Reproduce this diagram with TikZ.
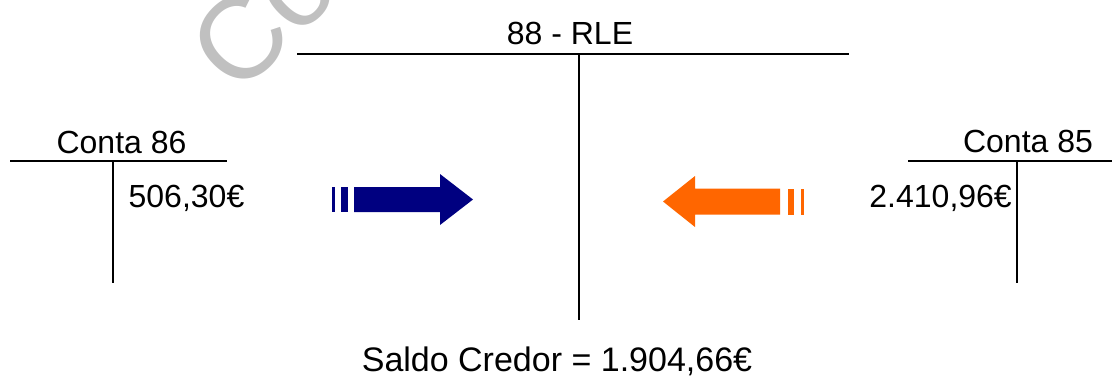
\documentclass[tikz,border=0pt]{standalone}
\usepackage{fontspec}
\setmainfont{Liberation Sans}
\definecolor{wm}{RGB}{192,192,192}
\definecolor{arrowblue}{RGB}{0,0,128}
\definecolor{arroworange}{RGB}{255,102,0}
\begin{document}
\begin{tikzpicture}[x=1pt,y=-1pt,
  lbl/.style={font=\fontsize{32}{38}\selectfont, inner sep=0pt, anchor=base},
  tline/.style={line width=1.6pt},
]
\useasboundingbox (0,0) rectangle (1112,376);
\clip (0,0) rectangle (1112,376);

% watermark
\node[rotate=45, text=wm, font=\fontsize{116}{116}\selectfont, anchor=base west, inner sep=0pt] (mark) at (238,98) {Co};

% central T account 88 - RLE
\coordinate (rleL) at (297,54);
\coordinate (rleR) at (849,54);
\coordinate (rleT) at (579,54);
\coordinate (rleB) at (579,320);
\draw[tline] (rleL) -- (rleR);
\draw[tline] (rleT) -- (rleB);
\node[lbl] (rle) at (570,44) {88 - RLE};
\node[lbl, font=\fontsize{34}{40}\selectfont] (saldo) at (557,371) {Saldo Credor = 1.904,66€};

% left T account 86
\coordinate (c86L) at (10,161);
\coordinate (c86R) at (227,161);
\coordinate (c86T) at (113,161);
\coordinate (c86B) at (113,283);
\draw[tline] (c86L) -- (c86R);
\draw[tline] (c86T) -- (c86B);
\node[lbl] (c86) at (121.5,153) {Conta 86};
\node[lbl] (v86) at (186.5,207) {506,30€};

% right T account 85
\coordinate (c85L) at (908,161);
\coordinate (c85R) at (1112,161);
\coordinate (c85T) at (1017,161);
\coordinate (c85B) at (1017,283);
\draw[tline] (c85L) -- (c85R);
\draw[tline] (c85T) -- (c85B);
\node[lbl] (c85) at (1028,152) {Conta 85};
\node[lbl, anchor=base east] (v85) at (1012,207) {2.410,96€};

% striped arrow, blue, pointing right
\fill[arrowblue] (354,187) -- (440,187) -- (440,174) -- (473,199.5) -- (440,225) -- (440,212) -- (354,212) -- cycle;
\fill[arrowblue] (331.5,187) rectangle (334.5,212);
\fill[arrowblue] (340.5,187) rectangle (347.5,212);

% striped arrow, orange, pointing left
\fill[arroworange] (780,188.5) -- (695,188.5) -- (695,176) -- (663,201.5) -- (695,227) -- (695,214.5) -- (780,214.5) -- cycle;
\fill[arroworange] (788,188.5) rectangle (794,214.5);
\fill[arroworange] (801,188.5) rectangle (803.5,214.5);
\end{tikzpicture}
\end{document}
